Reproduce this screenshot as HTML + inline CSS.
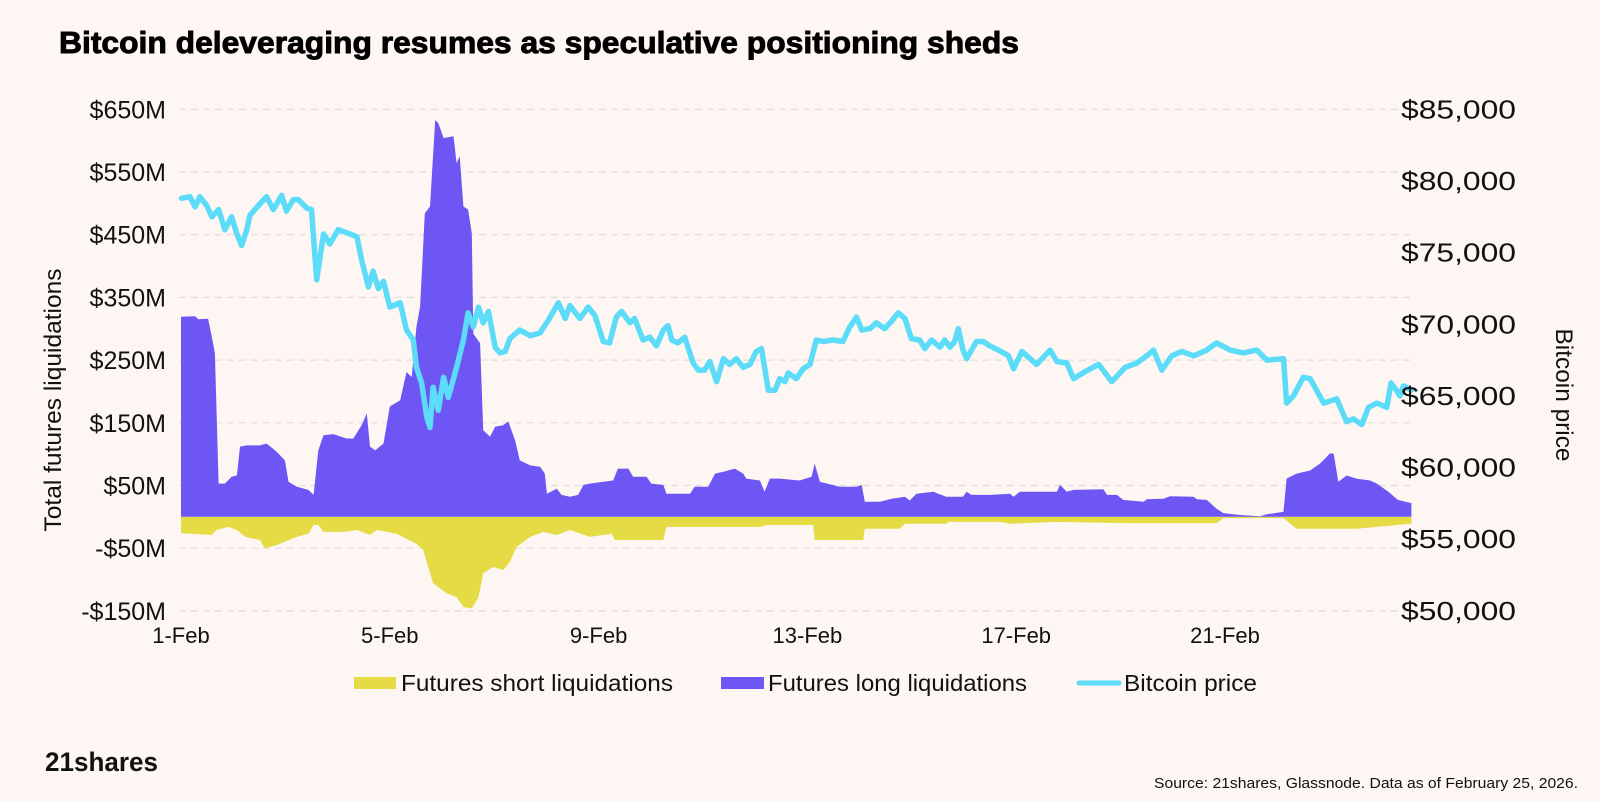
<!DOCTYPE html>
<html><head><meta charset="utf-8">
<style>
html,body{margin:0;padding:0;background:#fdf6f3;}
svg{display:block;font-family:"Liberation Sans",sans-serif;}
</style></head>
<body>
<svg id="chart" width="1600" height="802" viewBox="0 0 1600 802" xmlns="http://www.w3.org/2000/svg">
<rect x="0" y="0" width="1600" height="802" fill="#fdf6f3"/>
<text x="59" y="53" font-size="31" font-weight="bold" fill="#000" stroke="#000" stroke-width="0.9" textLength="960" lengthAdjust="spacingAndGlyphs">Bitcoin deleveraging resumes as speculative positioning sheds</text>
<g id="grid"></g>
<g id="series"></g>
<g id="axes"></g>
<text transform="translate(61,400) rotate(-90)" text-anchor="middle" font-size="24" fill="#111" textLength="263" lengthAdjust="spacingAndGlyphs">Total futures liquidations</text>
<text transform="translate(1556,395) rotate(90)" text-anchor="middle" font-size="24" fill="#111" textLength="133" lengthAdjust="spacingAndGlyphs">Bitcoin price</text>
<g>
  <rect x="354" y="677" width="42" height="12" fill="#e5dc45"/>
  <text x="401" y="691" font-size="23" fill="#111" textLength="272" lengthAdjust="spacingAndGlyphs">Futures short liquidations</text>
  <rect x="721" y="677" width="43" height="12" fill="#6e56f5"/>
  <text x="768" y="691" font-size="23" fill="#111" textLength="259" lengthAdjust="spacingAndGlyphs">Futures long liquidations</text>
  <line x1="1079" y1="683" x2="1119" y2="683" stroke="#5cdcf8" stroke-width="5" stroke-linecap="round"/>
  <text x="1124" y="691" font-size="23" fill="#111" textLength="133" lengthAdjust="spacingAndGlyphs">Bitcoin price</text>
</g>
<text x="45" y="771" font-size="27" font-weight="bold" fill="#111" textLength="113" lengthAdjust="spacingAndGlyphs">21shares</text>
<text x="1578" y="788" font-size="15" fill="#111" text-anchor="end" textLength="424" lengthAdjust="spacingAndGlyphs">Source: 21shares, Glassnode. Data as of February 25, 2026.</text>
</svg>
<script>
// ---- data (days since 1-Feb 00:00) ----
const priceDays = [0.01,0.17,0.27,0.36,0.49,0.59,0.72,0.84,0.97,1.07,1.16,1.26,1.32,1.51,1.64,1.77,1.93,2.02,2.15,2.25,2.41,2.50,2.60,2.73,2.85,3.01,3.24,3.37,3.46,3.59,3.68,3.78,3.88,4.00,4.20,4.32,4.45,4.51,4.61,4.71,4.77,4.83,4.93,5.03,5.12,5.28,5.41,5.50,5.60,5.70,5.79,5.89,6.02,6.11,6.21,6.30,6.49,6.69,6.88,7.04,7.23,7.36,7.45,7.64,7.80,7.93,8.09,8.21,8.34,8.44,8.60,8.69,8.85,8.98,9.11,9.24,9.33,9.40,9.52,9.65,9.81,9.91,10.03,10.13,10.26,10.39,10.51,10.64,10.77,10.90,11.02,11.12,11.25,11.38,11.47,11.57,11.63,11.79,11.92,12.05,12.17,12.30,12.49,12.68,12.81,12.94,13.04,13.20,13.32,13.48,13.61,13.74,13.87,13.99,14.15,14.25,14.38,14.54,14.63,14.73,14.82,14.89,14.98,15.05,15.24,15.37,15.49,15.66,15.85,15.95,16.11,16.39,16.65,16.78,16.97,17.10,17.32,17.58,17.83,18.09,18.31,18.50,18.63,18.79,18.98,19.17,19.40,19.65,19.84,20.10,20.35,20.61,20.80,21.12,21.18,21.31,21.50,21.63,21.89,22.14,22.33,22.46,22.62,22.75,22.91,23.10,23.18,23.30,23.35,23.42,23.57];
const priceValues = [78790,78900,78200,78900,78300,77500,78000,76600,77500,76300,75500,76600,77600,78400,78900,78000,79000,77900,78700,78700,78100,78000,73100,76300,75600,76600,76300,76100,74500,72600,73700,72500,73000,71200,71500,69600,68900,67000,65900,63500,62800,65600,64000,66300,64900,67000,68900,70800,69800,71200,70100,70900,68400,68000,68100,69000,69600,69200,69400,70300,71500,70400,71300,70400,71200,70600,68800,68700,70500,70900,70100,70400,68900,69100,68500,69600,69900,68900,68700,69100,67300,66800,66800,67400,66000,67600,67200,67600,67000,67200,68100,68300,65400,65400,66200,66000,66600,66200,66900,67200,68900,68800,68900,68800,69800,70500,69600,69700,70100,69700,70200,70800,70400,69000,68900,68300,68900,68400,68900,68400,68800,69700,68200,67600,68800,68800,68500,68200,67800,66900,68100,67200,68200,67400,67300,66200,66700,67200,66000,67000,67300,67800,68200,66800,67800,68100,67800,68200,68700,68200,68000,68200,67500,67600,64500,65000,66300,66200,64500,64800,63200,63400,63000,64200,64500,64200,65900,65300,65000,65700,65400];

const longDays = [0.00,0.27,0.33,0.52,0.59,0.65,0.72,0.84,0.97,1.07,1.13,1.26,1.51,1.64,1.83,1.99,2.06,2.22,2.44,2.54,2.63,2.73,2.92,3.17,3.30,3.46,3.56,3.62,3.72,3.88,4.00,4.20,4.32,4.42,4.51,4.58,4.67,4.77,4.87,4.93,5.03,5.22,5.28,5.34,5.41,5.50,5.57,5.60,5.73,5.79,5.92,6.02,6.17,6.27,6.40,6.49,6.69,6.88,6.97,7.01,7.20,7.29,7.45,7.61,7.71,7.83,8.09,8.28,8.37,8.57,8.66,8.92,9.01,9.24,9.30,9.75,9.84,10.10,10.23,10.39,10.61,10.77,10.83,11.09,11.18,11.28,11.47,11.85,12.08,12.14,12.24,12.62,12.94,13.04,13.10,13.39,13.61,13.87,13.96,14.09,14.41,14.66,14.98,15.05,15.14,15.50,15.88,15.95,16.07,16.78,16.84,16.97,17.10,17.67,17.74,17.93,18.05,18.44,18.50,18.82,18.95,19.40,19.46,19.65,19.84,19.97,20.29,20.67,20.80,21.12,21.18,21.37,21.63,21.82,22.01,22.08,22.17,22.33,22.52,22.78,22.91,23.13,23.31,23.57];
const longValues = [319,320,315,316,287,261,53,53,64,66,112,114,114,117,104,90,56,48,43,35,106,130,132,125,125,146,165,112,106,117,176,186,231,223,303,335,484,495,633,628,604,607,564,575,495,490,452,292,277,138,128,144,146,152,122,90,82,80,69,37,45,35,32,35,51,53,56,58,77,77,64,64,53,51,37,37,48,48,69,72,77,69,61,58,40,61,61,58,64,85,56,48,48,51,24,24,29,32,26,37,40,32,32,40,35,35,37,32,40,40,51,40,43,44,35,35,27,24,28,29,33,32,28,27,13,6,3,1,4,8,61,69,74,85,101,101,56,66,61,58,53,40,27,22];

const shortDays = [0.00,0.59,0.68,0.91,1.07,1.23,1.51,1.61,1.83,2.22,2.44,2.54,2.63,2.73,3.11,3.37,3.62,3.75,4.13,4.51,4.64,4.83,5.09,5.28,5.41,5.57,5.70,5.79,5.98,6.17,6.30,6.43,6.69,6.94,7.20,7.45,7.84,8.25,8.31,9.24,9.30,11.09,11.22,12.11,12.14,13.07,13.10,13.77,13.87,14.66,14.70,15.69,15.88,16.78,18.05,19.84,19.97,21.12,21.37,22.52,22.91,23.57];
const shortValues = [-26,-29,-21,-16,-21,-32,-37,-50,-45,-32,-27,-13,-13,-24,-24,-21,-29,-21,-27,-43,-53,-106,-122,-128,-144,-146,-128,-90,-80,-85,-72,-48,-32,-24,-29,-21,-32,-27,-37,-37,-16,-16,-13,-13,-37,-37,-19,-19,-11,-11,-8,-8,-11,-8,-10,-10,-2,-2,-19,-19,-16,-11];

const liqTicks = [650,550,450,350,250,150,50,-50,-150];
const liqTickLabels = ["$650M","$550M","$450M","$350M","$250M","$150M","$50M","-$50M","-$150M"];
const priceTicks = [85000,80000,75000,70000,65000,60000,55000,50000];
const priceTickLabels = ["$85,000","$80,000","$75,000","$70,000","$65,000","$60,000","$55,000","$50,000"];
const dateTicks = [0,4,8,12,16,20];
const dateTickLabels = ["1-Feb","5-Feb","9-Feb","13-Feb","17-Feb","21-Feb"];

// ---- axis functions ----
const X0 = 181, PXDAY = 52.2;
function xScale(d){ return X0 + d*PXDAY; }
const LTOP = 109.3, LBOT = 610.9, LMAX = 650, LMIN = -150;
function yLiq(v){ return LTOP + (LMAX - v)/(LMAX - LMIN)*(LBOT - LTOP); }
const PMAX = 85000, PMIN = 50000;
function yPrice(p){ return LTOP + (PMAX - p)/(PMAX - PMIN)*(LBOT - LTOP); }

const NS = "http://www.w3.org/2000/svg";
function mk(tag, attrs){ const e = document.createElementNS(NS, tag); for (const k in attrs) e.setAttribute(k, attrs[k]); return e; }

const grid = document.getElementById('grid');
const series = document.getElementById('series');
const axes = document.getElementById('axes');
const plotRight = xScale(23.6);

liqTicks.forEach((v,i)=>{
  const y = yLiq(v);
  const gl = mk('line',{x1:179,x2:plotRight,y1:y,y2:y,stroke:'#e3dedb','stroke-width':1.2,'stroke-dasharray':'7 5'});
  
  
  grid.appendChild(gl);
  const t = mk('text',{x:166,y:y+9,'text-anchor':'end','font-size':25,fill:'#111'});
  t.textContent = liqTickLabels[i];
  
  
  axes.appendChild(t);
});
priceTicks.forEach((p,i)=>{
  const t = mk('text',{x:1401,y:yPrice(p)+9,'font-size':26,fill:'#111',textLength:115,lengthAdjust:'spacingAndGlyphs'});
  t.textContent = priceTickLabels[i];
  
  
  axes.appendChild(t);
});
dateTicks.forEach((d,i)=>{
  const t = mk('text',{x:xScale(d),y:643,'text-anchor':'middle','font-size':22,fill:'#111'});
  t.textContent = dateTickLabels[i];
  
  
  axes.appendChild(t);
});

function areaPath(days, vals){
  const y0 = yLiq(0);
  let d = 'M' + xScale(days[0]).toFixed(1) + ',' + y0.toFixed(1);
  for (let i=0;i<days.length;i++) d += 'L' + xScale(days[i]).toFixed(1) + ',' + yLiq(vals[i]).toFixed(1);
  d += 'L' + xScale(days[days.length-1]).toFixed(1) + ',' + y0.toFixed(1) + 'Z';
  return d;
}
const shortArea = mk('path',{d:areaPath(shortDays, shortValues), fill:'#e5dc45'});


series.appendChild(shortArea);
const longArea = mk('path',{d:areaPath(longDays, longValues), fill:'#6e56f5'});


series.appendChild(longArea);

let pd = '';
for (let i=0;i<priceDays.length;i++) pd += (i?'L':'M') + xScale(priceDays[i]).toFixed(1) + ',' + yPrice(priceValues[i]).toFixed(1);
const priceLine = mk('path',{d:pd, fill:'none', stroke:'#5cdcf8','stroke-width':5.5,'stroke-linejoin':'round','stroke-linecap':'round'});


series.appendChild(priceLine);
</script>
</body></html>
